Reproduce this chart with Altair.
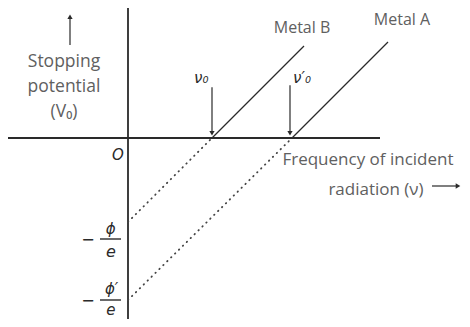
import altair as alt
import pandas as pd

# ---- data (arbitrary units) ----
metals = ["Metal B", "Metal A"]
threshold_nu = [2.1, 4.1]          # ν0 , ν'0
intercept_v = [-2.1, -4.05]        # -φ/e , -φ'/e
end_nu = [4.4, 6.5]
end_v = [2.3, 2.4]

x_axis_nu = [-3.0, 6.3]
y_axis_v = [-4.525, 3.25]

arrow_nu = [2.1, 4.05]             # ν0 / ν'0 pointer arrows
arrow_top_v = [1.27, 1.32]

XDOM = [-3.0, 8.35]
YDOM = [-4.525, 3.25]

solid = pd.DataFrame({
    "metal": metals * 2,
    "nu": threshold_nu + end_nu,
    "v": [0, 0] + end_v,
})
dotted = pd.DataFrame({
    "metal": metals * 2,
    "nu": [0, 0] + threshold_nu,
    "v": intercept_v + [0, 0],
})

xs = alt.Scale(domain=XDOM, nice=False, zero=False)
ys = alt.Scale(domain=YDOM, nice=False, zero=False)
X = lambda f: alt.X(f, type="quantitative", scale=xs, axis=None)
Y = lambda f: alt.Y(f, type="quantitative", scale=ys, axis=None)

INK = "#2a2a2a"
GREY = "#606060"
FONT = "Open Sans"

axes = pd.DataFrame({
    "nu": [x_axis_nu[0], 0.0],
    "nu2": [x_axis_nu[1], 0.0],
    "v": [0.0, y_axis_v[0]],
    "v2": [0.0, y_axis_v[1]],
})
axis_layer = alt.Chart(axes).mark_rule(color=INK, strokeWidth=1.8).encode(
    x=X("nu"), x2="nu2", y=Y("v"), y2="v2")

solid_layer = alt.Chart(solid).mark_line(color=INK, strokeWidth=1.3).encode(
    x=X("nu"), y=Y("v"), detail="metal:N")
dotted_layer = alt.Chart(dotted).mark_line(
    color="#444", strokeWidth=1.8, strokeDash=[0.5, 5], strokeCap="round"
).encode(x=X("nu"), y=Y("v"), detail="metal:N")

shafts = pd.DataFrame({
    "nu": arrow_nu + [-1.45, 7.6],
    "nu2": arrow_nu + [-1.45, 8.25],
    "v": arrow_top_v + [2.325, -1.2],
    "v2": [0.1, 0.1, 3.0, -1.2],
})
shaft_layer = alt.Chart(shafts).mark_rule(color=INK, strokeWidth=1.2).encode(
    x=X("nu"), x2="nu2", y=Y("v"), y2="v2")

heads = pd.DataFrame({
    "nu": arrow_nu + [-1.45, 8.25],
    "v": [0.12, 0.12, 3.03, -1.2],
    "shape": ["triangle-down", "triangle-down", "triangle-up", "triangle-right"],
})
head_layer = alt.Chart(heads).mark_point(filled=True, color=INK, opacity=1, size=28).encode(
    x=X("nu"), y=Y("v"), shape=alt.Shape("shape:N", scale=None))

# fraction bars of -φ/e and -φ'/e
bars = pd.DataFrame({
    "nu": [-0.7, -0.7], "nu2": [-0.175, -0.175], "v": [-2.525, -4.05],
})
bar_layer = alt.Chart(bars).mark_rule(color=INK, strokeWidth=1.4).encode(
    x=X("nu"), x2="nu2", y=Y("v"))

labels = pd.DataFrame({
    "text": ["Stopping", "potential", "(V₀)", "Metal B", "Metal A",
             "Frequency of incident", "radiation (ν)"],
    "nu": [-1.6, -1.6, -1.6, 4.35, 6.85, 6.0, 6.2],
    "v": [1.9, 1.275, 0.65, 2.75, 2.95, -0.55, -1.3],
    "size": [17.5, 17.5, 17.5, 16, 16, 17, 17],
})
label_layer = alt.Chart(labels).mark_text(
    font=FONT, color=GREY, align="center", baseline="middle"
).encode(x=X("nu"), y=Y("v"), text="text:N",
         size=alt.Size("size:Q", scale=None, legend=None))

math = pd.DataFrame({
    "text": ["ν₀", "ν′₀", "O", "−", "ϕ", "e", "−", "ϕ′", "e"],
    "nu": [1.83, 4.35, -0.25, -1.0, -0.43, -0.43, -1.0, -0.41, -0.43],
    "v": [1.5, 1.5, -0.425, -2.56, -2.275, -2.85, -4.08, -3.78, -4.3],
    "size": [15, 15, 15, 16, 15, 16, 16, 15, 15],
})
math_layer = alt.Chart(math).mark_text(
    font="DejaVu Sans", color=INK, align="center", baseline="middle",
    fontStyle="italic"
).encode(x=X("nu"), y=Y("v"), text="text:N",
         size=alt.Size("size:Q", scale=None, legend=None))

chart = alt.layer(
    axis_layer, dotted_layer, solid_layer, shaft_layer, head_layer,
    bar_layer, label_layer, math_layer
).properties(
    width=454, height=311, padding=0,
    autosize=alt.AutoSizeParams(type="none"),
    background="white",
).configure_view(stroke=None)

chart.save("out.html", embed_options={"renderer": "svg", "actions": False})
